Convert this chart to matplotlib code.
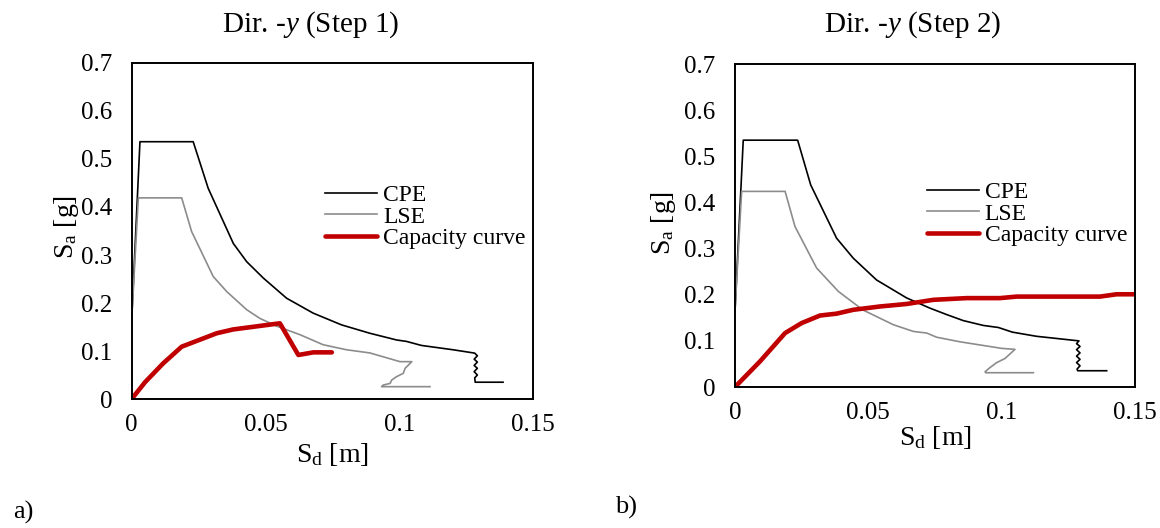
import numpy as np
import matplotlib
matplotlib.use("Agg")
from matplotlib import pyplot as plt

plt.rcParams['font.family'] = ['Liberation Serif', 'DejaVu Serif']
plt.rcParams['mathtext.fontset'] = 'custom'
plt.rcParams['mathtext.rm'] = 'Liberation Serif'
plt.rcParams['mathtext.it'] = 'Liberation Serif:italic'

# ---- Step 1 data (Sd [m], Sa [g]) ----
cpe1_sd = [0.0, 0.0031, 0.0230, 0.0286, 0.0380, 0.0430, 0.0492, 0.0579, 0.0678,
           0.0784, 0.0890, 0.0990, 0.1027, 0.1083, 0.1201, 0.1282,
           0.1292, 0.1280, 0.1292, 0.1280, 0.1292, 0.1280, 0.1292, 0.1282, 0.1284, 0.1388]
cpe1_sa = [0.165, 0.536, 0.536, 0.439, 0.324, 0.286, 0.252, 0.210, 0.179,
           0.1545, 0.137, 0.123, 0.120, 0.1116, 0.1026, 0.0956,
           0.090, 0.083, 0.077, 0.070, 0.064, 0.057, 0.050, 0.044, 0.035, 0.035]

lse1_sd = [0.0, 0.0025, 0.0187, 0.0224, 0.0305, 0.0355, 0.0430, 0.0479, 0.0541,
           0.0629, 0.0716, 0.0803, 0.0890, 0.1003, 0.1047,
           0.1022, 0.1015, 0.0990, 0.0972, 0.0966, 0.0940, 0.0934, 0.1115]
lse1_sa = [0.165, 0.419, 0.419, 0.349, 0.255, 0.224, 0.186, 0.168, 0.152,
           0.134, 0.113, 0.1026, 0.096, 0.0778, 0.0778,
           0.064, 0.0535, 0.0465, 0.0396, 0.0326, 0.029, 0.0257, 0.0257]

cap1_sd = [0.0, 0.005, 0.0118, 0.0187, 0.0318, 0.0380, 0.0554, 0.0623, 0.0679, 0.0748]
cap1_sa = [0.0, 0.035, 0.0744, 0.109, 0.137, 0.145, 0.1577, 0.0917, 0.0972, 0.0972]

# ---- Step 2 data ----
cpe2_sd = [0.0, 0.0031, 0.0235, 0.0284, 0.0381, 0.0444, 0.0531, 0.0644, 0.0731,
           0.0794, 0.0856, 0.0931, 0.0988, 0.1040, 0.1130, 0.1290,
           0.1281, 0.1294, 0.1281, 0.1294, 0.1281, 0.1294, 0.1281, 0.1294, 0.1283, 0.1285, 0.1394]
cpe2_sa = [0.164, 0.535, 0.535, 0.438, 0.3226, 0.279, 0.232, 0.193, 0.171,
           0.157, 0.144, 0.1335, 0.129, 0.119, 0.110, 0.100,
           0.094, 0.088, 0.081, 0.074, 0.067, 0.060, 0.053, 0.046, 0.039, 0.0353, 0.0353]

lse2_sd = [0.0, 0.0025, 0.0188, 0.0225, 0.0306, 0.0388, 0.0480, 0.0594, 0.0669,
           0.0719, 0.0756, 0.0844, 0.1000, 0.1050,
           0.1013, 0.0981, 0.0956, 0.0938, 0.0940, 0.1119]
lse2_sa = [0.164, 0.424, 0.424, 0.348, 0.258, 0.207, 0.167, 0.135, 0.1205,
           0.117, 0.108, 0.098, 0.0838, 0.0816,
           0.062, 0.0527, 0.042, 0.0332, 0.031, 0.031]

cap2_sd = [0.0, 0.0094, 0.0188, 0.0250, 0.0319, 0.0381, 0.0444, 0.0544, 0.0644,
           0.0744, 0.0869, 0.0994, 0.1056, 0.1369, 0.1431, 0.1500]
cap2_sa = [0.0, 0.0556, 0.117, 0.1386, 0.155, 0.159, 0.1674, 0.1746, 0.180,
           0.189, 0.1927, 0.1927, 0.196, 0.196, 0.201, 0.201]

titles = ["Dir. -$\\mathit{y}$ (Step 1)", "Dir. -$\\mathit{y}$ (Step 2)"]
xticks = [0, 0.05, 0.1, 0.15]
xticklabels = ["0", "0.05", "0.1", "0.15"]
yticks = [0, 0.1, 0.2, 0.3, 0.4, 0.5, 0.6, 0.7]
yticklabels = ["0", "0.1", "0.2", "0.3", "0.4", "0.5", "0.6", "0.7"]

fig = plt.figure(figsize=(11.6, 5.28), dpi=100)
ax1 = fig.add_axes([0.1135, 0.2443, 0.346, 0.6364])
ax2 = fig.add_axes([0.6336, 0.267, 0.3448, 0.6117])

panels = [
    (ax1, cpe1_sd, cpe1_sa, lse1_sd, lse1_sa, cap1_sd, cap1_sa, (0.482, 0.542), (-0.127, 0.512), -0.125),
    (ax2, cpe2_sd, cpe2_sa, lse2_sd, lse2_sa, cap2_sd, cap2_sa, (0.480, 0.536), (-0.143, 0.508), -0.115),
]

for ax, cx, cy, lx, ly, kx, ky, leg_pos, ylab_pos, xlab_y in panels:
    ax.plot(cx, cy, color="black", lw=1.2, label="CPE")
    ax.plot(lx, ly, color="#8c8c8c", lw=1.2, label="LSE")
    ax.plot(kx, ky, color="#c00000", lw=3.3, label="Capacity curve", solid_capstyle="round")
    ax.set_xlim(0, 0.15)
    ax.set_ylim(0, 0.7)
    ax.set_xticks(xticks)
    ax.set_xticklabels(xticklabels)
    ax.set_yticks(yticks)
    ax.set_yticklabels(yticklabels)
    ax.tick_params(length=0, labelsize=18)
    ax.tick_params(axis="y", pad=14)
    ax.tick_params(axis="x", pad=11)
    for s in ax.spines.values():
        s.set_linewidth(1.4)
    ax.set_xlabel("S$_\\mathrm{d}$ [m]", fontsize=20)
    ax.set_ylabel("S$_\\mathrm{a}$ [g]", fontsize=20)
    ax.xaxis.set_label_coords(0.5, xlab_y)
    ax.yaxis.set_label_coords(*ylab_pos)
    ax.legend(loc="center left", bbox_to_anchor=leg_pos, frameon=False, fontsize=17,
              borderpad=0, borderaxespad=0, handlelength=2.2, handletextpad=0.25,
              labelspacing=0.0)

fig.text(311 / 1160, 1 - 25 / 528, titles[0], fontsize=21, ha="center", va="center")
fig.text(913 / 1160, 1 - 25 / 528, titles[1], fontsize=21, ha="center", va="center")
fig.text(23 / 1160, 1 - 512 / 528, "a)", fontsize=19, ha="center", va="center")
fig.text(626 / 1160, 1 - 507 / 528, "b)", fontsize=19, ha="center", va="center")

plt.savefig("out.png", dpi=100)
